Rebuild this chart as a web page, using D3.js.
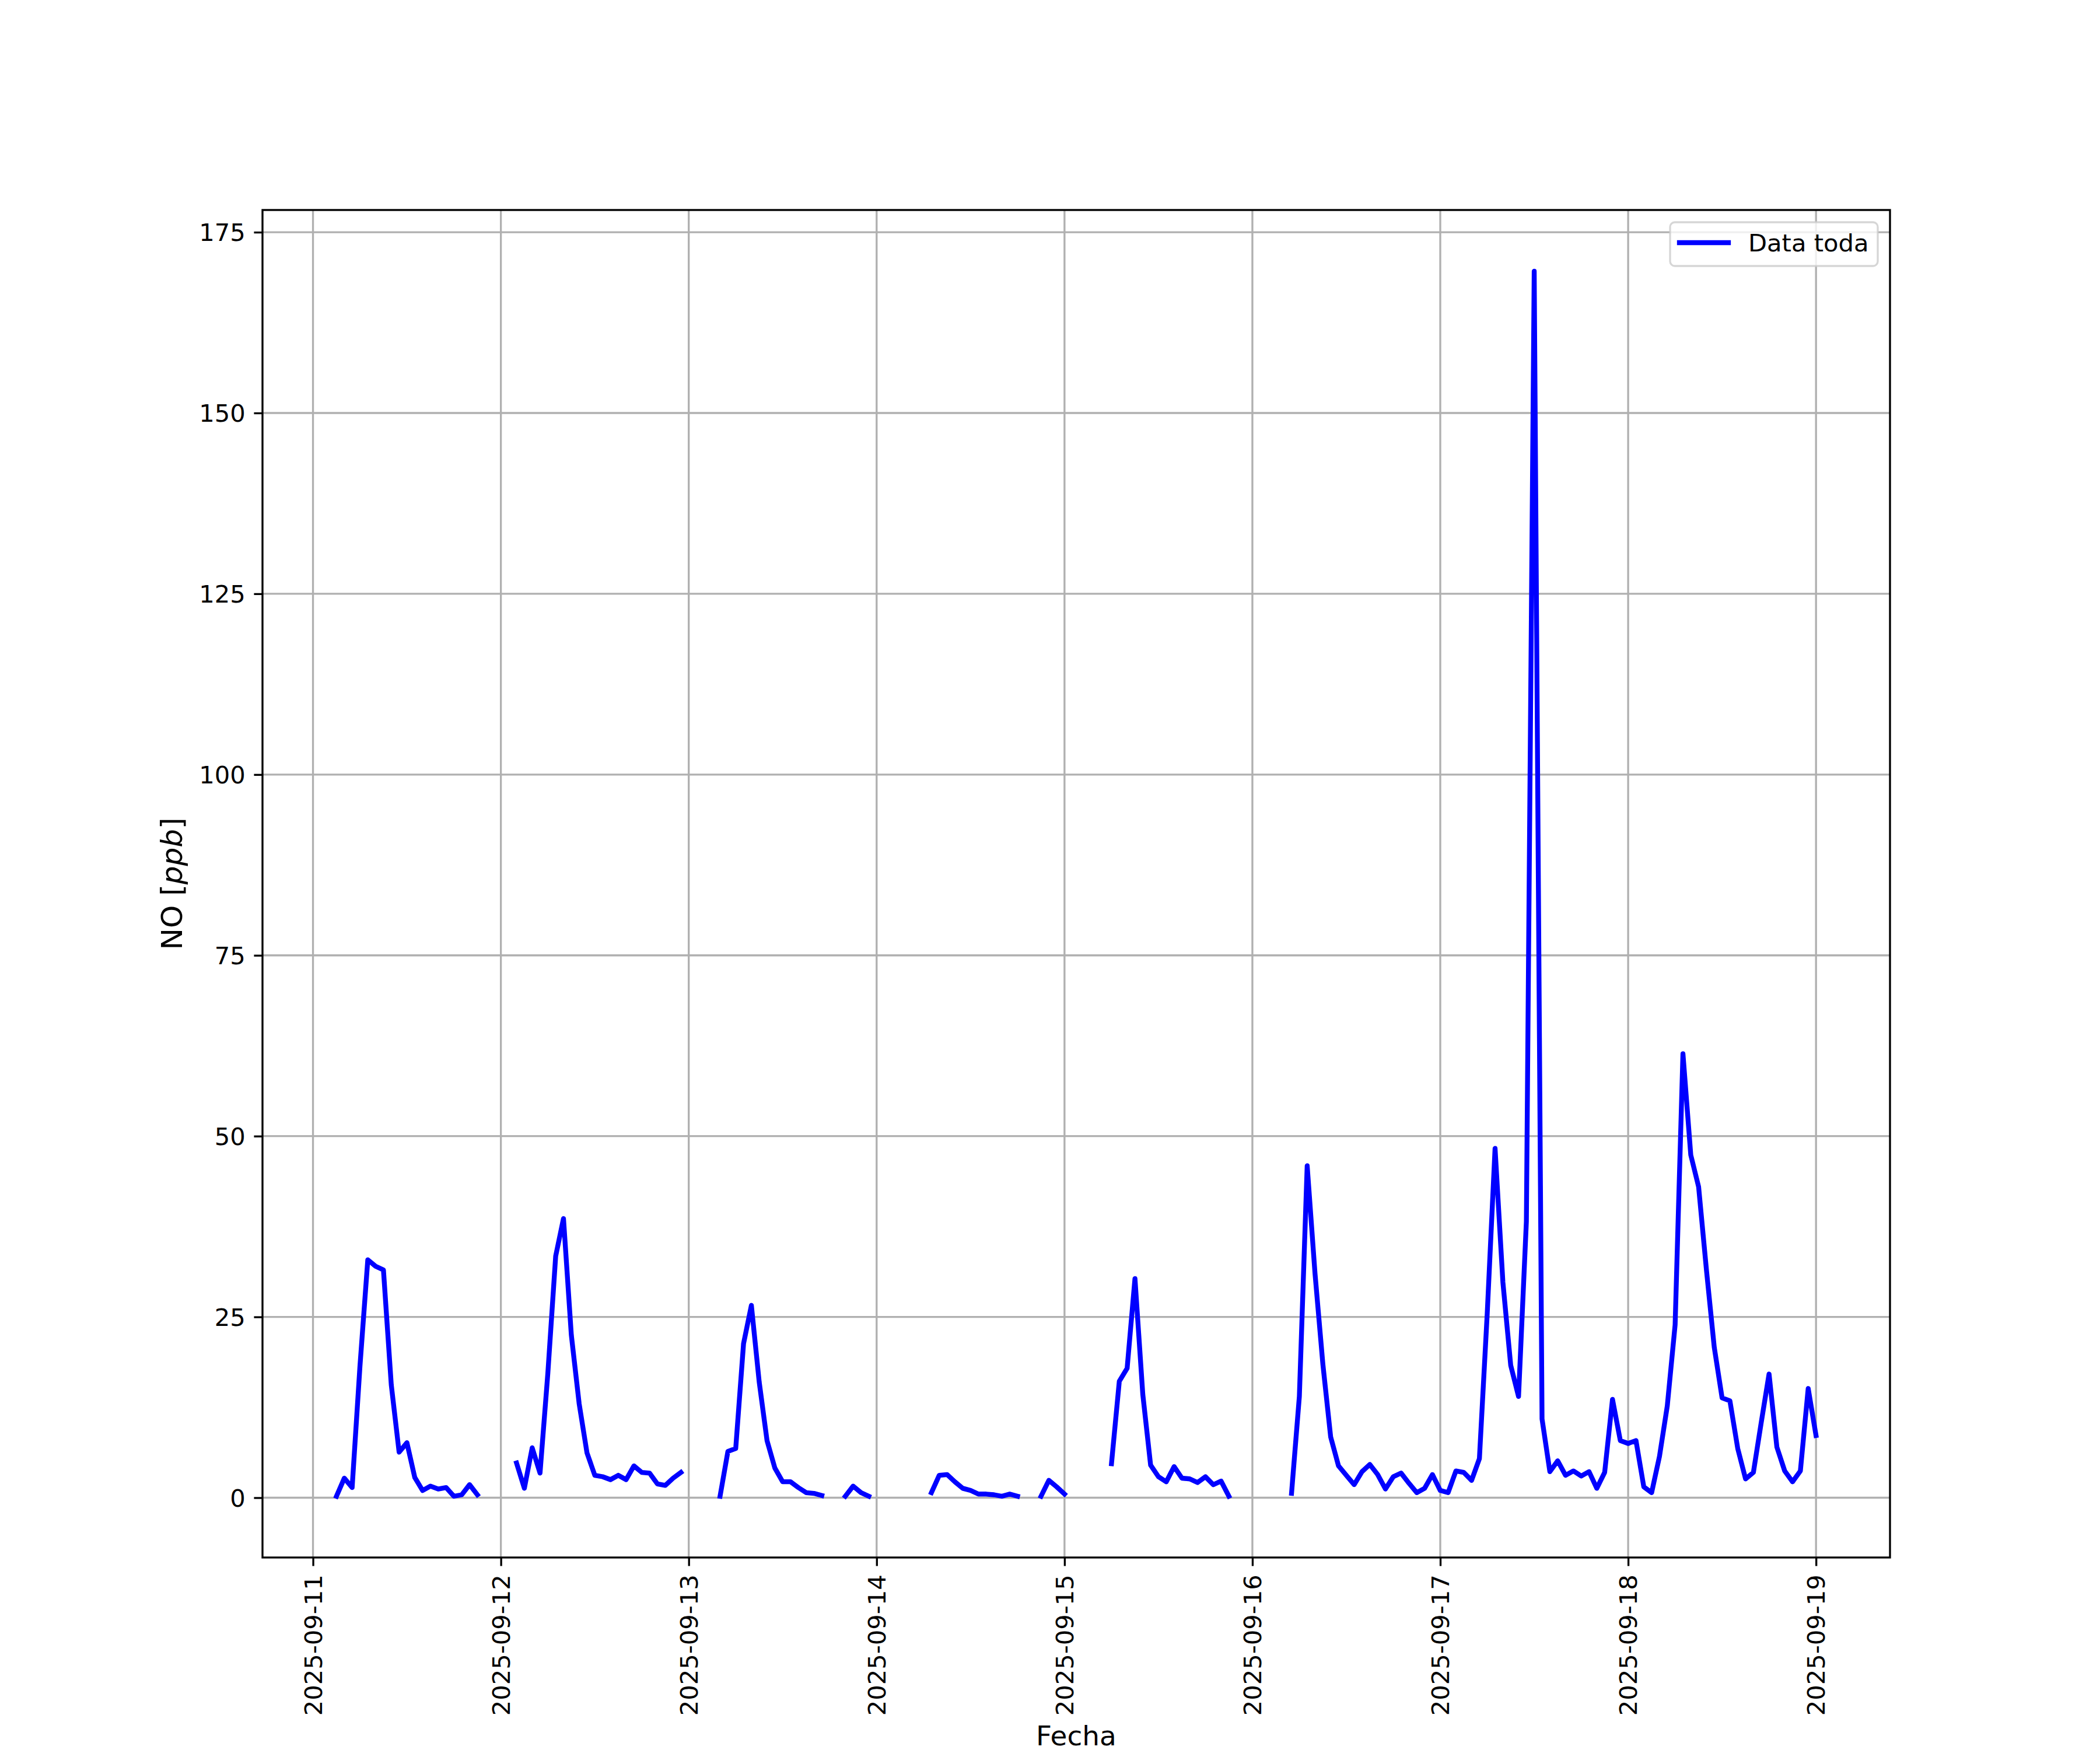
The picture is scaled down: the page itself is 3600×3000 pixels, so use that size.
<!DOCTYPE html>
<html>
<head>
<meta charset="utf-8">
<script src="https://cdn.jsdelivr.net/npm/d3@7"></script>
<style>
  body { margin: 0; background: #fff; }
  text { font-family: 'DejaVu Sans', sans-serif; }
</style>
</head>
<body>
<svg id="chart" width="3600" height="3000"></svg>
<script>
/* globals d3 */
// hourly NO readings, one array per day (00:00 .. 23:00), null = no data
const startDay = '2025-09-11';
const day11 = [null, null, null, 0.2, 2.7, 1.4, 18.2, 32.9, 32.0, 31.5, 15.6, 6.3, 7.6, 2.8, 1.0, 1.6, 1.2, 1.4, 0.2, 0.4, 1.8, 0.4, null, null];
const day12 = [null, null, 4.8, 1.3, 6.9, 3.4, 17.2, 33.4, 38.6, 22.5, 13.0, 6.2, 3.1, 2.9, 2.5, 3.1, 2.5, 4.4, 3.5, 3.4, 1.9, 1.7, 2.7, 3.5];
const day13 = [null, null, null, null, 0.2, 6.4, 6.8, 21.3, 26.6, 16.0, 7.9, 4.1, 2.2, 2.2, 1.4, 0.7, 0.6, 0.3, null, null, 0.2, 1.6, 0.7, 0.2];
const day14 = [null, null, null, null, null, null, null, 0.7, 3.1, 3.2, 2.2, 1.3, 1.0, 0.5, 0.5, 0.4, 0.2, 0.5, 0.2, null, null, 0.2, 2.4, 1.5];
const day15 = [0.5, null, null, null, null, null, 4.7, 16.1, 17.9, 30.3, 14.3, 4.5, 2.9, 2.2, 4.3, 2.7, 2.6, 2.1, 2.9, 1.8, 2.3, 0.2, null, null];
const day16 = [null, null, null, null, null, 0.6, 14.0, 45.9, 31.0, 18.5, 8.4, 4.4, 3.1, 1.8, 3.6, 4.6, 3.2, 1.2, 2.9, 3.4, 2.0, 0.7, 1.3, 3.2];
const day17 = [1.0, 0.7, 3.7, 3.5, 2.4, 5.4, 25.5, 48.3, 29.8, 18.3, 14.0, 38.2, 169.6, 10.9, 3.6, 5.1, 3.1, 3.7, 3.0, 3.6, 1.3, 3.5, 13.6, 7.9];
const day18 = [7.5, 7.9, 1.5, 0.7, 5.7, 12.7, 23.9, 61.4, 47.4, 43.0, 31.5, 20.8, 13.8, 13.4, 6.8, 2.6, 3.5, 10.4, 17.1, 7.0, 3.7, 2.2, 3.7, 15.1];
const day19 = [8.6];

const yTicks = [0, 25, 50, 75, 100, 125, 150, 175];
const xTickDays = ['2025-09-11', '2025-09-12', '2025-09-13', '2025-09-14', '2025-09-15',
  '2025-09-16', '2025-09-17', '2025-09-18', '2025-09-19'];
const seriesLabel = 'Data toda';

const margin = { left: 450, right: 360, top: 360, bottom: 330 };
const W = 3600;
const H = 3000;
const FS = 41.67;
const LABEL_FS = 47;
const LW = 3.33;
const DATA_LW = 8.33;
const GRID = '#b0b0b0';

const t0 = new Date(startDay + 'T00:00:00Z');
const HOUR = 3600 * 1000;
const series = [day11, day12, day13, day14, day15, day16, day17, day18, day19]
  .flat()
  .map((v, i) => ({ t: new Date(t0.getTime() + i * HOUR), v }));
const valid = series.filter(d => d.v !== null);

// matplotlib-style 5% padding
const pad = ([a, b]) => {
  const m = (b - a) * 0.05;
  return [a - m, b + m];
};
const tExt = d3.extent(valid, d => d.t.getTime());
const vExt = d3.extent(valid, d => d.v);

const x = d3.scaleUtc()
  .domain(pad(tExt).map(ms => new Date(ms)))
  .range([margin.left, W - margin.right]);
const y = d3.scaleLinear()
  .domain(pad(vExt))
  .range([H - margin.bottom, margin.top]);

const svg = d3.select('#chart');
svg.append('rect').attr('width', W).attr('height', H).attr('fill', '#fff');

const plotW = W - margin.left - margin.right;
const plotH = H - margin.top - margin.bottom;
const xDays = xTickDays.map(s => new Date(s + 'T00:00:00Z'));

// grid
const grid = svg.append('g').attr('class', 'grid');
grid.selectAll('.vgrid').data(xDays).enter().append('line')
  .attr('x1', d => x(d)).attr('x2', d => x(d))
  .attr('y1', margin.top).attr('y2', H - margin.bottom)
  .attr('stroke', GRID).attr('stroke-width', LW);
grid.selectAll('.hgrid').data(yTicks).enter().append('line')
  .attr('x1', margin.left).attr('x2', W - margin.right)
  .attr('y1', d => y(d)).attr('y2', d => y(d))
  .attr('stroke', GRID).attr('stroke-width', LW);

// data line, broken at gaps
svg.append('defs').append('clipPath').attr('id', 'clip')
  .append('rect')
  .attr('x', margin.left).attr('y', margin.top)
  .attr('width', plotW).attr('height', plotH);
const line = d3.line()
  .defined(d => d.v !== null)
  .x(d => x(d.t))
  .y(d => y(d.v));
svg.append('path')
  .datum(series)
  .attr('clip-path', 'url(#clip)')
  .attr('d', line)
  .attr('fill', 'none')
  .attr('stroke', '#0000ff')
  .attr('stroke-width', DATA_LW)
  .attr('stroke-linejoin', 'round')
  .attr('stroke-linecap', 'square');

// axes
const xAxis = d3.axisBottom(x)
  .tickValues(xDays)
  .tickFormat(d3.utcFormat('%Y-%m-%d'))
  .tickSize(14.58)
  .tickPadding(14.58);
const gx = svg.append('g')
  .attr('transform', `translate(0,${H - margin.bottom})`)
  .call(xAxis);
gx.select('.domain').remove();
gx.selectAll('line').attr('stroke', '#000').attr('stroke-width', LW);
gx.selectAll('text')
  .attr('font-size', FS)
  .attr('fill', '#000')
  .attr('text-anchor', 'end')
  .attr('transform', 'translate(0,29.2) rotate(-90)')
  .attr('x', 0)
  .attr('y', 0)
  .attr('dy', '0.35em');

const yAxis = d3.axisLeft(y)
  .tickValues(yTicks)
  .tickSize(14.58)
  .tickPadding(14.58);
const gy = svg.append('g')
  .attr('transform', `translate(${margin.left},0)`)
  .call(yAxis);
gy.select('.domain').remove();
gy.selectAll('line').attr('stroke', '#000').attr('stroke-width', LW);
gy.selectAll('text')
  .attr('font-size', FS)
  .attr('fill', '#000')
  .attr('dy', '0.35em');

// frame
svg.append('rect')
  .attr('x', margin.left).attr('y', margin.top)
  .attr('width', plotW).attr('height', plotH)
  .attr('fill', 'none')
  .attr('stroke', '#000')
  .attr('stroke-width', LW);

// axis labels
svg.append('text')
  .attr('x', margin.left + plotW / 2)
  .attr('y', 2992)
  .attr('text-anchor', 'middle')
  .attr('font-size', LABEL_FS)
  .text('Fecha');

const ylab = svg.append('text')
  .attr('transform', `translate(312,${margin.top + plotH / 2}) rotate(-90)`)
  .attr('text-anchor', 'middle')
  .attr('font-size', 50);
ylab.append('tspan').text('NO [');
ylab.append('tspan').attr('font-style', 'italic').text('ppb');
ylab.append('tspan').text(']');

// legend
const lg = svg.append('g').attr('class', 'legend');
lg.append('rect')
  .attr('x', 2863).attr('y', 381)
  .attr('width', 356).attr('height', 75)
  .attr('rx', 8)
  .attr('fill', '#fff').attr('fill-opacity', 0.8)
  .attr('stroke', '#cccccc').attr('stroke-opacity', 0.8)
  .attr('stroke-width', 3.3);
lg.append('line')
  .attr('x1', 2879).attr('x2', 2963)
  .attr('y1', 416).attr('y2', 416)
  .attr('stroke', '#0000ff')
  .attr('stroke-width', DATA_LW)
  .attr('stroke-linecap', 'square');
lg.append('text')
  .attr('x', 2997).attr('y', 431)
  .attr('font-size', FS)
  .text(seriesLabel);
</script>
</body>
</html>
